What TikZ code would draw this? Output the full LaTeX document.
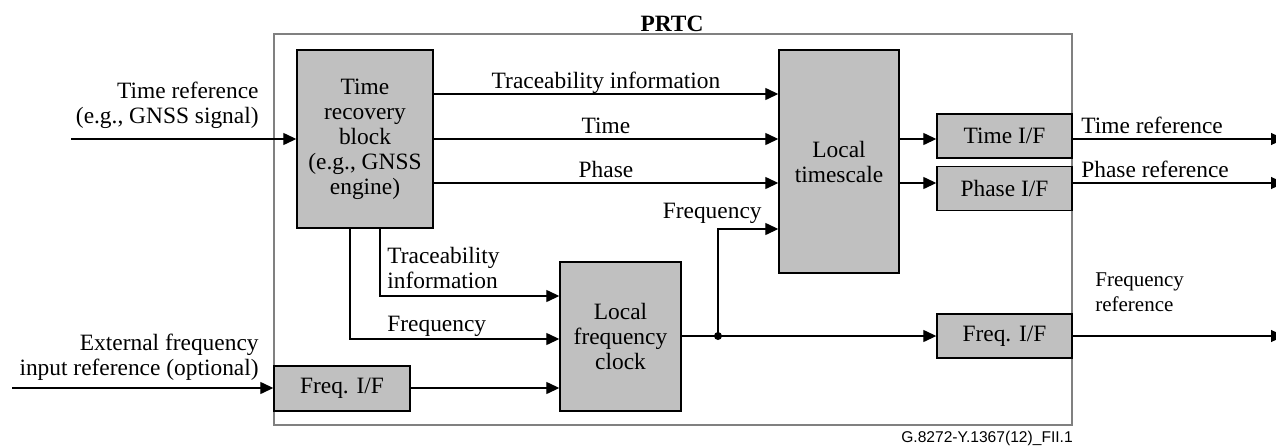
\documentclass[tikz,border=0pt]{standalone}
\usepackage{fontspec}
\setmainfont{Liberation Serif}
\newfontfamily\figsans{Liberation Sans}
\usetikzlibrary{arrows.meta}
\definecolor{blockgray}{RGB}{192,192,192}
\definecolor{framegray}{RGB}{128,128,128}

\begin{document}
\begin{tikzpicture}[x=0.5pt,y=-0.5pt,font=\fontsize{11.7}{12.5}\selectfont,block/.style={rectangle,draw,fill=blockgray,line width=0.7pt,inner sep=0pt,align=center},iface/.style={block,minimum width=67.5pt,minimum height=22pt},lbl/.style={anchor=base,inner sep=0pt,yshift=3pt},arr/.style={draw,line width=0.65pt,-{Triangle[length=6.5pt,width=6pt]}}]
    \useasboundingbox (0,0) rectangle (1276,445);
    \node[rectangle,draw=framegray,line width=0.6pt,minimum width=399pt,minimum height=195.5pt] (prtc) at (673,229.5) {};
    \node[font=\fontsize{11.7}{12.5}\selectfont\bfseries] (prtctitle) at (672,23.5) {PRTC};
    \node[block,minimum width=68pt,minimum height=89pt] (trb) at (365,139) {Time\\recovery\\block\\(e.g., GNSS\\engine)};
    \node[block,minimum width=60pt,minimum height=111.5pt] (lts) at (839,161.5) {Local\\timescale};
    \node[block,minimum width=60.5pt,minimum height=74.5pt] (lfc) at (620.5,336.5) {Local\\frequency\\clock};
    \node[iface] (tif) at (1004.5,136) {Time I/F};
    \node[iface] (pif) at (1004.5,188.5) {Phase I/F};
    \node[iface] (fif2) at (1004.5,336) {Freq. I/F};
    \node[iface,minimum width=68pt,minimum height=22.5pt] (fif1) at (342,388.5) {Freq. I/F};
    \coordinate (tin) at (71,139);
    \coordinate (fin) at (12,388);
    \coordinate (tout) at (1284,139);
    \coordinate (pout) at (1284,183);
    \coordinate (fout) at (1284,336);
    \coordinate (jn) at (718,336);
    % inputs
    \node[anchor=east,align=right,inner sep=0pt] (ltin) at (259,105) {Time reference\\(e.g., GNSS signal)};
    \node[anchor=east,align=right,inner sep=0pt] (lfin) at (259,357) {External frequency\\input reference (optional)};
    \draw[arr] (tin) -- (trb.west |- tin);
    \draw[arr] (fin) -- (fif1.west |- fin);
    % time recovery block to local timescale
    \draw[arr] (trb.east |- 0,94) -- node[lbl] (ltrace) {Traceability information} (lts.west |- 0,94);
    \draw[arr] (trb.east |- 0,139) -- node[lbl] (ltime) {Time} (lts.west |- 0,139);
    \draw[arr] (trb.east |- 0,183) -- node[lbl] (lphase) {Phase} (lts.west |- 0,183);
    % time recovery block to local frequency clock
    \draw[arr] (trb.south -| 380,0) |- (lfc.west |- 0,296);
    \draw[arr] (trb.south -| 350,0) |- (lfc.west |- 0,339);
    \node[anchor=west,align=left,inner sep=0pt] (ltrace2) at (387,268) {Traceability\\information};
    \node[anchor=west,inner sep=0pt] (lfreq) at (387,326) {Frequency};
    \draw[arr] (fif1.east |- fin) -- (lfc.west |- fin);
    % local frequency clock outputs
    \draw[arr] (lfc.east |- jn) -- (fif2.west |- jn);
    \fill (jn) circle (2pt);
    \draw[arr] (jn) |- (lts.west |- 0,229);
    \node[anchor=east,inner sep=0pt] (lfreq2) at (762,213.5) {Frequency};
    % local timescale outputs
    \draw[arr] (lts.east |- 0,139) -- (tif.west |- 0,139);
    \draw[arr] (lts.east |- 0,183) -- (pif.west |- 0,183);
    \draw[arr] (tif.east |- tout) -- node[lbl,at start,anchor=base west,xshift=4pt] (ltout) {Time reference} (tout);
    \draw[arr] (pif.east |- pout) -- node[lbl,at start,anchor=base west,xshift=4pt] (lpout) {Phase reference} (pout);
    \draw[arr] (fif2.east) -- node[at start,anchor=south west,inner sep=0pt,xshift=11pt,yshift=12pt,align=left,font=\fontsize{10.5}{12.5}\selectfont] (lfout) {Frequency\\reference} (fout);
    \node[font=\figsans\fontsize{7.8}{9}\selectfont] (figid) at (987,438) {G.8272-Y.1367(12)\_FII.1};
\end{tikzpicture}
\end{document}
